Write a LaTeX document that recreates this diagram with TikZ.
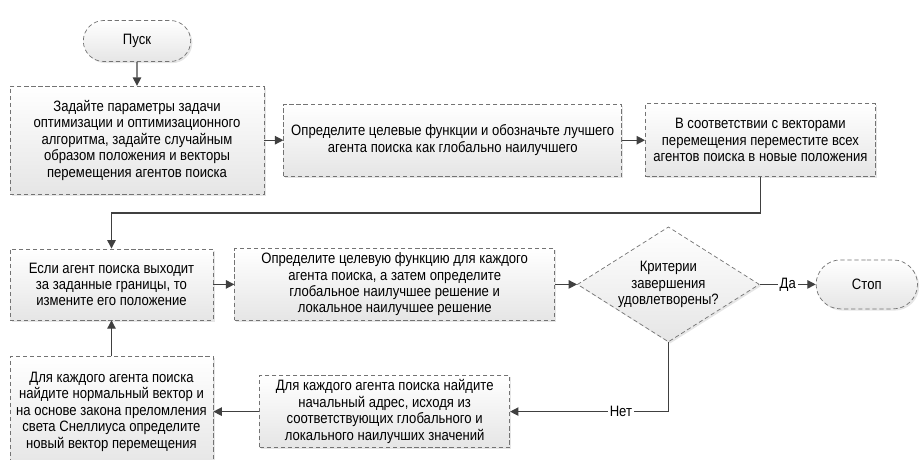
\documentclass[tikz,border=0pt]{standalone}
\usepackage{fontspec}
\setmainfont[FakeStretch=0.87]{Liberation Sans}
\usepackage{tikz}
\usetikzlibrary{arrows.meta,calc,positioning,shapes.geometric,shapes.misc,shadows}
\definecolor{bordegris}{rgb}{0.45,0.45,0.45}
\definecolor{flechagris}{rgb}{0.25,0.25,0.25}
\definecolor{sombragris}{rgb}{0.90,0.90,0.90}
\tikzset{
  caja/.style={
    draw=bordegris,
    dash pattern=on 3pt off 2pt,
    line width=0.5pt,
    top color=white,
    bottom color=sombragris,
    drop shadow={opacity=0.2, shadow xshift=1.2pt, shadow yshift=-1.2pt},
    align=center,
    inner sep=2pt,
    font=\fontsize{10.7}{11.7}\selectfont
  },
  terminal/.style={
    caja,
    rounded rectangle
  },
  rombo/.style={
    caja,
    diamond,
    aspect=1.58,
    inner sep=0pt
  },
  arrow/.style={
    -{Triangle[length=6pt,width=6pt]},
    line width=0.9pt,
    flechagris
  },
  etiqueta/.style={
    fill=white,
    text=black,
    inner sep=1.5pt,
    font=\fontsize{10.7}{11.7}\selectfont
  }
}
\begin{document}
\begin{tikzpicture}[node distance=.55cm]
\useasboundingbox (0,0) rectangle (23.075,-11.5);
\node[terminal, minimum width=2.825cm, minimum height=1.025cm] (p) at (3.425,-1.025) {Пуск};
\node[caja, below=.6cm of p, minimum width=6.35cm, minimum height=2.7cm] (z) {Задайте параметры задачи\\оптимизации и оптимизационного\\алгоритма, задайте случайным\\образом положения и векторы\\перемещения агентов поиска};
\node[caja, right=.475cm of z, minimum width=8.45cm, minimum height=1.8cm] (o) {Определите целевые функции и обозначьте лучшего\\агента поиска как глобально наилучшего};
\node[caja, right=.575cm of o, minimum width=5.75cm, minimum height=1.825cm] (v) {В соответствии с векторами\\перемещения переместите всех\\агентов поиска в новые положения};
\node[caja, below=1.35cm of z.south west, anchor=north west, minimum width=5.075cm, minimum height=1.775cm] (e) {Если агент поиска выходит\\за заданные границы, то\\измените его положение};
\node[caja, right=.525cm of e, minimum width=8cm, minimum height=1.8cm] (c) {Определите целевую функцию для каждого\\агента поиска, а затем определите\\глобальное наилучшее решение и\\локальное наилучшее решение};
\node[rombo, right=.55cm of c, minimum width=4.55cm, minimum height=2.875cm] (k) {Критерии\\завершения\\удовлетворены?};
\node[terminal, right=1.4cm of k, minimum width=2.675cm, minimum height=1.225cm] (s) {Стоп};
\node[caja, below=.9cm of e, minimum width=5.075cm, minimum height=2.75cm] (d) {Для каждого агента поиска\\найдите нормальный вектор и\\на основе закона преломления\\света Снеллиуса определите\\новый вектор перемещения};
\node[caja, right=1.15cm of d, minimum width=6.25cm, minimum height=1.8cm] (n) {Для каждого агента поиска найдите\\начальный адрес, исходя из\\соответствующих глобального и\\локального наилучших значений};
\draw[arrow] (p) -- (z);
\draw[arrow] (z) -- (o);
\draw[arrow] (o) -- (v);
\draw[arrow] (v.south) -- ++(0,-.9) -| (e.north);
\draw[arrow] (e) -- (c);
\draw[arrow] (c) -- (k);
\draw[arrow] (k) -- node[etiqueta] {Да} (s);
\draw[arrow] (k.south) |- node[etiqueta, pos=.65] {Нет} (n);
\draw[arrow] (n) -- (d);
\draw[arrow] (d) -- (e);
\end{tikzpicture}
\end{document}
